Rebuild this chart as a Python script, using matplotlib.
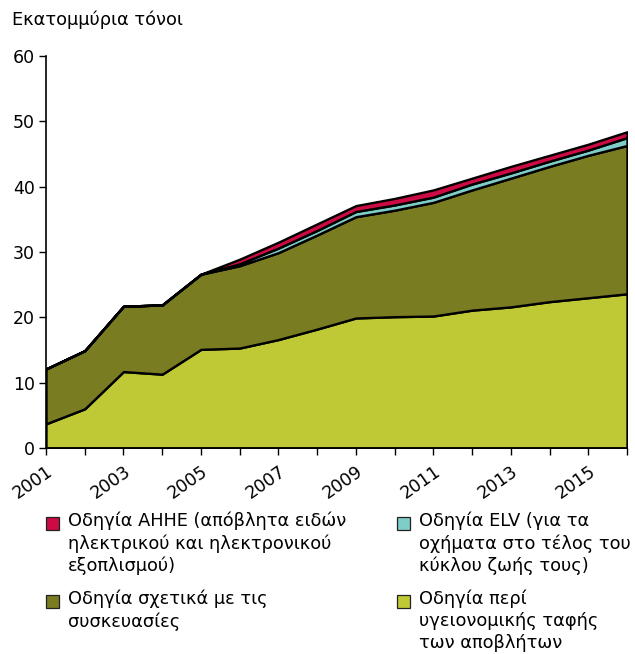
import numpy as np
import matplotlib
matplotlib.use("Agg")
import matplotlib.pyplot as plt
from matplotlib.patches import Rectangle

plt.rcParams["font.family"] = ["DejaVu Sans"]

# ── data (million tonnes) ──────────────────────────────────
years = list(range(2001, 2017))
landfill  = [3.7, 6.0, 11.7, 11.3, 15.1, 15.3, 16.6, 18.2, 19.9, 20.1, 20.2, 21.1, 21.6, 22.4, 23.0, 23.6]
packaging = [8.4, 8.9, 10.0, 10.6, 11.5, 12.6, 13.3, 14.4, 15.5, 16.3, 17.4, 18.4, 19.7, 20.7, 21.8, 22.7]
elv       = [0.0, 0.0, 0.0, 0.0, 0.0, 0.3, 0.7, 0.7, 0.8, 0.8, 0.8, 0.9, 0.8, 0.8, 0.8, 1.2]
weee      = [0.0, 0.0, 0.0, 0.0, 0.0, 0.7, 0.9, 1.0, 0.9, 1.0, 1.1, 0.9, 1.0, 0.9, 0.9, 0.9]

c_landfill = "#bfc936"
c_pack     = "#7a7c22"
c_elv      = "#7fcdc9"
c_weee     = "#cc0a44"

lab_weee = "Οδηγία ΑΗΗΕ (απόβλητα ειδών\nηλεκτρικού και ηλεκτρονικού\nεξοπλισμού)"
lab_elv  = "Οδηγία ELV (για τα\nοχήματα στο τέλος του\nκύκλου ζωής τους)"
lab_pack = "Οδηγία σχετικά με τις\nσυσκευασίες"
lab_land = "Οδηγία περί\nυγειονομικής ταφής\nτων αποβλήτων"

fig = plt.figure(figsize=(6.35, 6.54), dpi=100)
ax = fig.add_axes([46/635, 1 - 448/654, (627 - 46)/635, (448 - 56)/654])

ax.stackplot(years, landfill, packaging, elv, weee,
             colors=[c_landfill, c_pack, c_elv, c_weee],
             edgecolor="black", linewidth=1.7)

ax.set_xlim(2001, 2016)
ax.set_ylim(0, 60)
ax.set_yticks(range(0, 61, 10))
ax.set_xticks(years)
ax.set_xticklabels([str(y) if y % 2 == 1 else "" for y in years],
                   rotation=35, ha="right", rotation_mode="anchor")
ax.tick_params(axis="both", direction="out", length=5, width=1, labelsize=12.5,
               colors="black", pad=3)
ax.tick_params(axis="x", pad=5)
for s in ["top", "right"]:
    ax.spines[s].set_visible(False)
for s in ["left", "bottom"]:
    ax.spines[s].set_linewidth(1.2)

fig.text(12/635, 1 - 20/654, "Εκατομμύρια τόνοι", fontsize=12.8, va="center", ha="left")

# legend, placed by hand so the box sits on the first text line
entries = [
    (c_weee, lab_weee, 46, 523),
    (c_elv,  lab_elv,  397, 523),
    (c_pack, lab_pack, 46, 601),
    (c_landfill, lab_land, 397, 601),
]
for col, lab, px, py in entries:
    fig.patches.append(Rectangle((px/635, 1 - (py + 7)/654), 13/635, 13/654,
                                 transform=fig.transFigure, facecolor=col,
                                 edgecolor="#222222", linewidth=0.9))
    fig.text((px + 22)/635, 1 - (py - 11)/654, lab, fontsize=12.8, va="top", ha="left",
             linespacing=1.25)

fig.savefig("out.png", dpi=100)
